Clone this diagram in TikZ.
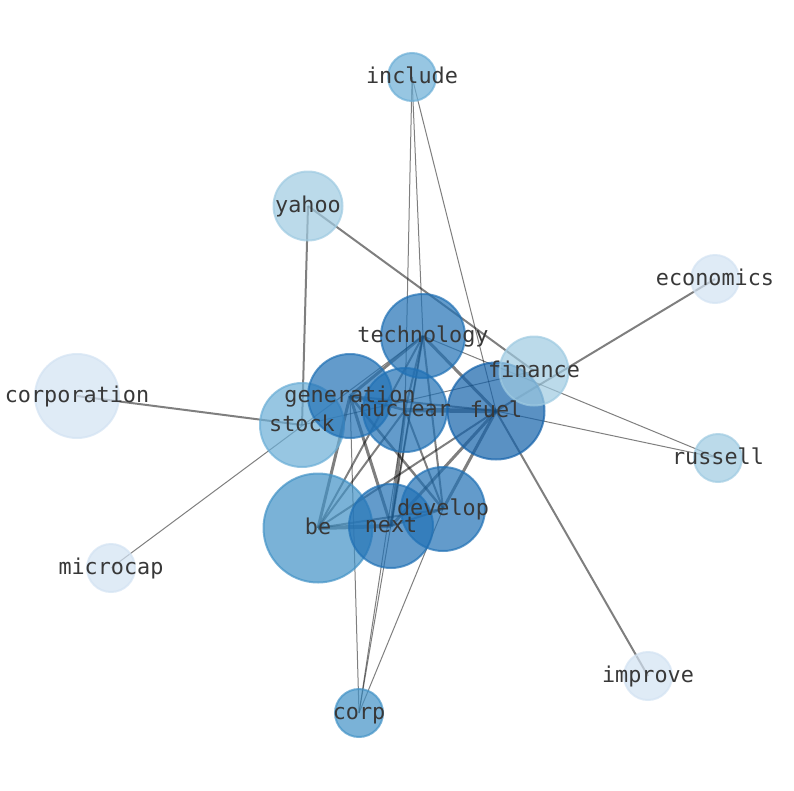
\documentclass[tikz,border=0pt]{standalone}
\usepackage{fontspec}
\setmonofont{DejaVu Sans Mono}
\usetikzlibrary{backgrounds}

\definecolor{bluesA}{HTML}{D2E2F2}
\definecolor{bluesB}{HTML}{9ECAE1}
\definecolor{bluesC}{HTML}{6BAED6}
\definecolor{bluesD}{HTML}{4292C6}
\definecolor{bluesE}{HTML}{2171B5}
\definecolor{bluesF}{HTML}{1462AA}

\begin{document}
\begin{tikzpicture}[x=1pt,y=-1pt,
	word/.style={circle, inner sep=0pt, line width=2pt, fill opacity=0.7, draw opacity=0.7},
	lbl/.style={font=\ttfamily\fontsize{21.8}{26}\selectfont, text=black!78, text height=0.8em, text depth=0.2em, inner sep=0pt, yshift=-3.5pt},
	link/.style={draw=black, draw opacity=0.5}]

\useasboundingbox (0,0) rectangle (794,790);

	% outer words
	\node[word, fill=bluesC, draw=bluesC, minimum size=48pt] (include) at (412,77) {};
	\node[word, fill=bluesB, draw=bluesB, minimum size=69pt] (yahoo) at (308,206) {};
	\node[word, fill=bluesA, draw=bluesA, minimum size=48pt] (economics) at (715,279) {};
	\node[word, fill=bluesA, draw=bluesA, minimum size=84pt] (corporation) at (77,396) {};
	\node[word, fill=bluesB, draw=bluesB, minimum size=48pt] (russell) at (718,458) {};
	\node[word, fill=bluesA, draw=bluesA, minimum size=48pt] (microcap) at (111,568) {};
	\node[word, fill=bluesA, draw=bluesA, minimum size=48pt] (improve) at (648,676) {};
	\node[word, fill=bluesD, draw=bluesD, minimum size=48pt] (corp) at (359,713) {};
	% the cluster
	\node[word, fill=bluesC, draw=bluesC, minimum size=84pt] (stock) at (302,425) {};
	\node[word, fill=bluesD, draw=bluesD, minimum size=109pt] (be) at (318,528) {};
	\node[word, fill=bluesE, draw=bluesE, minimum size=84pt] (generation) at (350,396) {};
	\node[word, fill=bluesE, draw=bluesE, minimum size=84pt] (technology) at (423,336) {};
	\node[word, fill=bluesE, draw=bluesE, minimum size=84pt] (nuclear) at (405,410) {};
	\node[word, fill=bluesE, draw=bluesE, minimum size=84pt] (next) at (391,526) {};
	\node[word, fill=bluesE, draw=bluesE, minimum size=84pt] (develop) at (443,509) {};
	\node[word, fill=bluesF, draw=bluesF, minimum size=97pt] (fuel) at (496,411) {};
	\node[word, fill=bluesB, draw=bluesB, minimum size=69pt] (finance) at (534,371) {};

\begin{scope}[on background layer]
	% thin links
	\draw[link, line width=1pt] (include.center) -- (technology.center);
	\draw[link, line width=1pt] (include.center) -- (nuclear.center);
	\draw[link, line width=1pt] (include.center) -- (fuel.center);
	\draw[link, line width=1pt] (technology.center) -- (russell.center);
	\draw[link, line width=1pt] (fuel.center) -- (russell.center);
	\draw[link, line width=1pt] (stock.center) -- (finance.center);
	\draw[link, line width=1pt] (microcap.center) -- (technology.center);
	\draw[link, line width=1pt] (corp.center) -- (generation.center);
	\draw[link, line width=1pt] (corp.center) -- (nuclear.center);
	\draw[link, line width=1pt] (corp.center) -- (technology.center);
	\draw[link, line width=1pt] (corp.center) -- (develop.center);
	% medium links
	\draw[link, line width=2pt] (yahoo.center) -- (stock.center);
	\draw[link, line width=2pt] (yahoo.center) -- (finance.center);
	\draw[link, line width=2pt] (corporation.center) -- (stock.center);
	\draw[link, line width=2pt] (economics.center) -- (fuel.center);
	\draw[link, line width=2pt] (fuel.center) -- (improve.center);
	% inside the cluster
	\draw[link, line width=4.5pt] (nuclear.center) -- (fuel.center);
	\draw[link, line width=4pt] (be.center) -- (next.center);
	\draw[link, line width=3pt] (technology.center) -- (fuel.center);
	\draw[link, line width=3pt] (technology.center) -- (generation.center);
	\draw[link, line width=3pt] (generation.center) -- (be.center);
	\draw[link, line width=3pt] (generation.center) -- (next.center);
	\draw[link, line width=3pt] (nuclear.center) -- (next.center);
	\draw[link, line width=3pt] (fuel.center) -- (develop.center);
	\draw[link, line width=3pt] (fuel.center) -- (next.center);
	\draw[link, line width=2.5pt] (generation.center) -- (nuclear.center);
	\draw[link, line width=2.5pt] (generation.center) -- (develop.center);
	\draw[link, line width=2pt] (generation.center) -- (fuel.center);
	\draw[link, line width=2pt] (technology.center) -- (nuclear.center);
	\draw[link, line width=2pt] (technology.center) -- (next.center);
	\draw[link, line width=2pt] (technology.center) -- (develop.center);
	\draw[link, line width=2pt] (technology.center) -- (be.center);
	\draw[link, line width=2pt] (nuclear.center) -- (develop.center);
	\draw[link, line width=2pt] (nuclear.center) -- (be.center);
	\draw[link, line width=2pt] (fuel.center) -- (be.center);
	\draw[link, line width=2pt] (be.center) -- (develop.center);
	\draw[link, line width=2pt] (next.center) -- (develop.center);
\end{scope}

	% labels on top of every circle
	\node[lbl] (include-l) at (include.center) {include};
	\node[lbl] (yahoo-l) at (yahoo.center) {yahoo};
	\node[lbl] (economics-l) at (economics.center) {economics};
	\node[lbl] (corporation-l) at (corporation.center) {corporation};
	\node[lbl] (russell-l) at (russell.center) {russell};
	\node[lbl] (microcap-l) at (microcap.center) {microcap};
	\node[lbl] (improve-l) at (improve.center) {improve};
	\node[lbl] (corp-l) at (corp.center) {corp};
	\node[lbl] (stock-l) at (stock.center) {stock};
	\node[lbl] (be-l) at (be.center) {be};
	\node[lbl] (generation-l) at (generation.center) {generation};
	\node[lbl] (technology-l) at (technology.center) {technology};
	\node[lbl] (nuclear-l) at (nuclear.center) {nuclear};
	\node[lbl] (next-l) at (next.center) {next};
	\node[lbl] (develop-l) at (develop.center) {develop};
	\node[lbl] (fuel-l) at (fuel.center) {fuel};
	\node[lbl] (finance-l) at (finance.center) {finance};

\end{tikzpicture}
\end{document}
